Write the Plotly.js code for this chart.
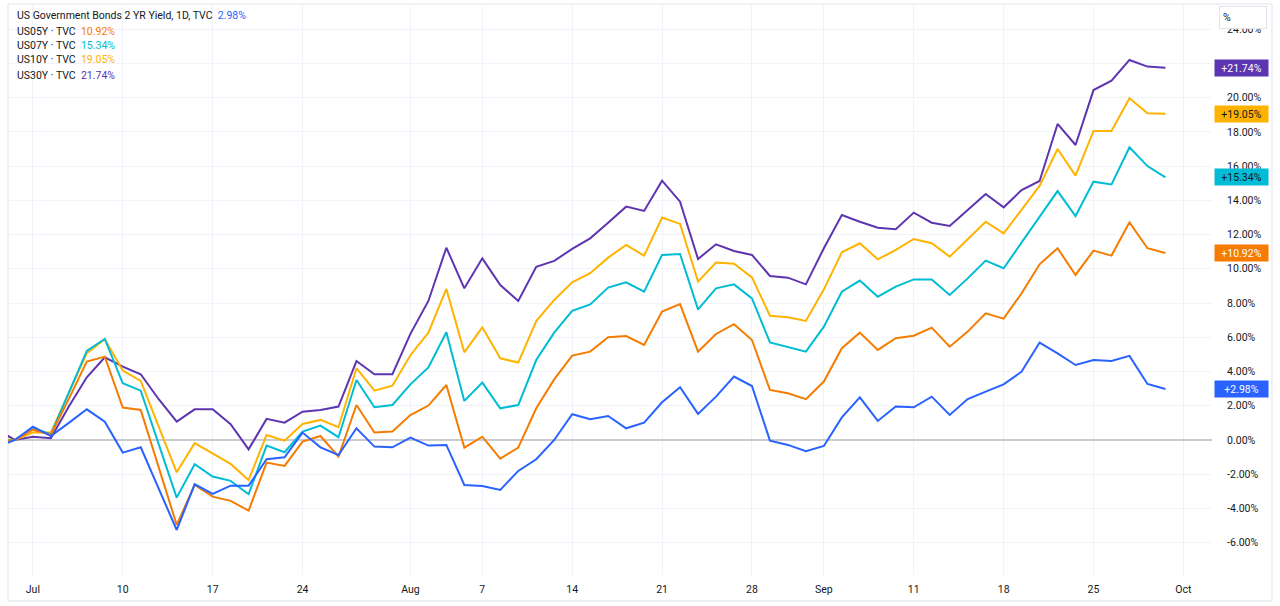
<!DOCTYPE html>
<html>
<head>
<meta charset="utf-8">
<script src="https://cdn.plot.ly/plotly-3.0.1.min.js"></script>
<style>
  html, body { margin: 0; padding: 0; background: #ffffff; }
  #chart { width: 1280px; height: 606px; }
</style>
</head>
<body>
<div id="chart"></div>
<script>
// Trading days (x categories)
const dates = [
  '2023-06-29','2023-06-30',
  '2023-07-03','2023-07-04','2023-07-05','2023-07-06','2023-07-07',
  '2023-07-10','2023-07-11','2023-07-12','2023-07-13','2023-07-14',
  '2023-07-17','2023-07-18','2023-07-19','2023-07-20','2023-07-21',
  '2023-07-24','2023-07-25','2023-07-26','2023-07-27','2023-07-28',
  '2023-07-31','2023-08-01','2023-08-02','2023-08-03','2023-08-04',
  '2023-08-07','2023-08-08','2023-08-09','2023-08-10','2023-08-11',
  '2023-08-14','2023-08-15','2023-08-16','2023-08-17','2023-08-18',
  '2023-08-21','2023-08-22','2023-08-23','2023-08-24','2023-08-25',
  '2023-08-28','2023-08-29','2023-08-30','2023-08-31','2023-09-01',
  '2023-09-05','2023-09-06','2023-09-07','2023-09-08',
  '2023-09-11','2023-09-12','2023-09-13','2023-09-14','2023-09-15',
  '2023-09-18','2023-09-19','2023-09-20','2023-09-21','2023-09-22',
  '2023-09-25','2023-09-26','2023-09-27','2023-09-28','2023-09-29'
];

// Percent change series (%)
const us02y = [-0.4, 0, 0.78, 0.23, 1.0, 1.79, 1.07, -0.74, -0.43, -2.84, -5.26, -2.59, -3.15, -2.67, -2.67, -1.13, -1.01, 0.43, -0.43, -0.88, 0.68, -0.39, -0.43, 0.14, -0.33, -0.29, -2.63, -2.69, -2.92, -1.81, -1.13, 0.0, 1.50, 1.21, 1.40, 0.68, 1.01, 2.20, 3.08, 1.52, 2.53, 3.70, 3.15, -0.04, -0.29, -0.66, -0.35, 1.32, 2.49, 1.11, 1.95, 1.91, 2.53, 1.46, 2.39, 2.82, 3.25, 3.99, 5.69, 5.06, 4.38, 4.67, 4.61, 4.91, 3.27, 2.98];
const us05y = [-0.15, 0, 0.6, 0.3, 2.4, 4.58, 4.87, 1.89, 1.75, -1.6, -4.96, -2.63, -3.31, -3.56, -4.13, -1.32, -1.52, -0.10, 0.23, -0.97, 2.04, 0.43, 0.49, 1.45, 2.01, 3.21, -0.45, 0.19, -1.09, -0.45, 1.85, 3.54, 4.93, 5.16, 6.00, 6.07, 5.55, 7.50, 7.94, 5.16, 6.19, 6.76, 5.84, 2.92, 2.73, 2.38, 3.41, 5.36, 6.27, 5.26, 5.94, 6.09, 6.56, 5.45, 6.33, 7.40, 7.09, 8.57, 10.26, 11.20, 9.64, 11.06, 10.77, 12.71, 11.20, 10.92];
const us07y = [-0.1, 0, 0.68, 0.33, 2.76, 5.20, 5.90, 3.31, 2.88, -0.23, -3.37, -1.42, -2.14, -2.39, -3.17, -0.33, -0.72, 0.49, 0.84, 0.16, 3.50, 1.91, 2.04, 3.25, 4.24, 6.29, 2.28, 3.35, 1.85, 2.04, 4.67, 6.27, 7.54, 7.92, 8.90, 9.21, 8.66, 10.81, 10.86, 7.63, 8.86, 9.09, 8.27, 5.70, 5.45, 5.16, 6.62, 8.66, 9.31, 8.37, 8.96, 9.38, 9.38, 8.47, 9.44, 10.48, 10.03, 11.53, 13.08, 14.54, 13.08, 15.09, 14.93, 17.10, 16.00, 15.34];
const us10y = [0.05, 0, 0.43, 0.43, 2.75, 5.06, 5.88, 4.05, 3.45, 0.78, -1.89, -0.19, -0.78, -1.40, -2.34, 0.29, -0.04, 0.93, 1.17, 0.74, 4.19, 2.88, 3.17, 4.95, 6.27, 8.82, 5.12, 6.58, 4.77, 4.52, 6.95, 8.18, 9.21, 9.74, 10.65, 11.39, 10.77, 12.99, 12.62, 9.25, 10.36, 10.30, 9.50, 7.26, 7.17, 6.95, 8.80, 10.96, 11.49, 10.55, 11.10, 11.74, 11.49, 10.71, 11.72, 12.75, 12.07, 13.47, 14.84, 17.00, 15.44, 18.05, 18.05, 19.96, 19.08, 19.05];
const us30y = [0.6, 0, 0.19, 0.10, 1.95, 3.66, 4.83, 4.28, 3.84, 2.38, 1.07, 1.79, 1.79, 0.92, -0.55, 1.23, 1.01, 1.65, 1.75, 1.95, 4.61, 3.84, 3.84, 6.2, 8.12, 11.23, 8.86, 10.61, 9.05, 8.12, 10.12, 10.46, 11.16, 11.78, 12.69, 13.63, 13.38, 15.15, 13.92, 10.57, 11.43, 11.04, 10.81, 9.58, 9.48, 9.09, 11.20, 13.14, 12.75, 12.40, 12.31, 13.28, 12.69, 12.50, 13.43, 14.37, 13.59, 14.60, 15.13, 18.46, 17.23, 20.44, 20.99, 22.20, 21.81, 21.74];

const seriesNames = ['US Government Bonds 2 YR Yield, 1D, TVC', 'US05Y · TVC', 'US07Y · TVC', 'US10Y · TVC', 'US30Y · TVC'];
const seriesColors = ['#2962ff', '#f57c00', '#00bcd4', '#ffb300', '#5e35b1'];
const badgeTextColors = ['#ffffff', '#ffffff', '#131722', '#131722', '#ffffff'];
const seriesData = [us02y, us05y, us07y, us10y, us30y];

// X tick labels
const xTickVals = ['2023-07-03','2023-07-10','2023-07-17','2023-07-24','2023-08-01','2023-08-07','2023-08-14','2023-08-21','2023-08-28','2023-09-01','2023-09-11','2023-09-18','2023-09-25','2023-10-02'];
const xTickText = ['Jul','10','17','24','Aug','7','14','21','28','Sep','11','18','25','Oct'];

// Y tick labels (22.00% is hidden behind the last-value badge in the reference)
const yTickVals = [-6, -4, -2, 0, 2, 4, 6, 8, 10, 12, 14, 16, 18, 20, 22, 24];
const yHidden = [22];
const yTickText = yTickVals.map(v => yHidden.includes(v) ? '' : v.toFixed(2) + '%');

const W = 1280, H = 606;
const M = {l: 8, r: 68, t: 5, b: 31};
const PW = W - M.l - M.r, PH = H - M.t - M.b;
const px = x => (x - M.l) / PW;
const py = y => (H - M.b - y) / PH;

const FONT = 'Roboto, "Noto Sans", sans-serif';
const TXT = '#131722';

// draw order: purple, yellow, cyan, orange, blue on top
const order = [4, 3, 2, 1, 0];
const traces = order.map(k => ({
  type: 'scatter', mode: 'lines',
  x: dates, y: seriesData[k], name: seriesNames[k],
  line: {color: seriesColors[k], width: 2},
  hoverinfo: 'skip'
}));

const annotations = [];
// legend (top-left)
const legendY = [16, 31, 45.5, 60, 75];
seriesNames.forEach((n, k) => {
  const last = seriesData[k][seriesData[k].length - 1];
  annotations.push({
    xref: 'paper', yref: 'paper', x: px(15), y: py(legendY[k]),
    xanchor: 'left', yanchor: 'middle', showarrow: false,
    text: n + '\u00a0\u00a0<span style="color:' + seriesColors[k] + '">' + last.toFixed(2) + '%</span>',
    font: {family: FONT, size: 10.5, color: TXT}
  });
});
// last value badges on price scale
seriesData.forEach((d, k) => {
  const last = d[d.length - 1];
  annotations.push({
    xref: 'paper', yref: 'y', x: px(1214), y: last,
    xanchor: 'left', yanchor: 'middle', showarrow: false,
    text: (last >= 0 ? '+' : '') + last.toFixed(2) + '%',
    font: {family: FONT, size: 10.5, color: badgeTextColors[k]},
    bgcolor: seriesColors[k], borderpad: 2, width: 49, height: 12
  });
});
// "%" box
annotations.push({
  xref: 'paper', yref: 'paper', x: px(1219), y: py(6),
  xanchor: 'left', yanchor: 'top', showarrow: false,
  text: '%', align: 'left',
  font: {family: FONT, size: 10.5, color: TXT},
  bgcolor: '#ffffff', bordercolor: '#e0e3eb', borderwidth: 1, borderpad: 3,
  width: 40, height: 15
});

const layout = {
  width: W, height: H,
  margin: M,
  paper_bgcolor: '#ffffff', plot_bgcolor: '#ffffff',
  showlegend: false,
  font: {family: FONT, size: 10.5, color: TXT},
  xaxis: {
    type: 'date',
    rangebreaks: [{bounds: ['sat', 'mon']}, {values: ['2023-09-04']}],
    range: ['2023-06-29 14:47', '2023-10-03 14:10'],
    tickmode: 'array', tickvals: xTickVals, ticktext: xTickText,
    showgrid: true, gridcolor: '#f0f3fa', gridwidth: 1,
    zeroline: false, showline: false,
    ticks: 'outside', ticklen: 4, tickcolor: 'rgba(0,0,0,0)',
    tickfont: {family: FONT, size: 10.5, color: TXT},
    fixedrange: true
  },
  yaxis: {
    side: 'right',
    range: [-7.89, 25.41],
    tickmode: 'array', tickvals: yTickVals, ticktext: yTickText,
    showgrid: true, gridcolor: '#f0f3fa', gridwidth: 1,
    zeroline: true, zerolinecolor: '#c9cbd1', zerolinewidth: 2,
    showline: false,
    ticks: 'outside', ticklen: 12, tickcolor: 'rgba(0,0,0,0)',
    tickfont: {family: FONT, size: 10.5, color: TXT},
    fixedrange: true
  },
  shapes: [{
    type: 'rect', xref: 'paper', yref: 'paper',
    x0: px(8), x1: px(1272), y0: py(601), y1: py(4),
    line: {color: '#e0e3eb', width: 1}, fillcolor: 'rgba(0,0,0,0)', layer: 'below'
  }],
  annotations: annotations
};

Plotly.newPlot('chart', traces, layout, {displayModeBar: false, staticPlot: true});
</script>
</body>
</html>
